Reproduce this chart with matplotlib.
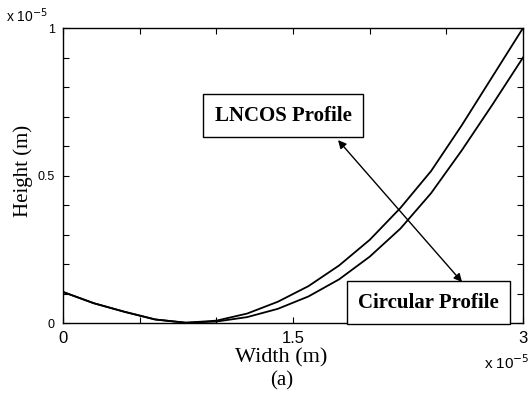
import matplotlib.pyplot as plt

# values in units of 1e-5 m
width = [0.0, 0.2, 0.4, 0.6, 0.8, 1.0, 1.2, 1.4, 1.6, 1.8, 2.0, 2.2, 2.4, 2.6, 2.8, 3.0]
lncos = [0.105, 0.067, 0.038, 0.012, 0.001, 0.008, 0.032, 0.072, 0.125, 0.195,
         0.282, 0.39, 0.515, 0.67, 0.835, 1.0]
circular = [0.105, 0.067, 0.038, 0.012, 0.001, 0.005, 0.02, 0.048, 0.09, 0.148,
            0.225, 0.32, 0.44, 0.585, 0.74, 0.90]

xticks = [0, 0.5, 1.0, 1.5, 2.0, 2.5, 3.0]
xticklabels = ['0', '', '', '1.5', '', '', '3']
yticks = [0, 0.1, 0.2, 0.3, 0.4, 0.5, 0.6, 0.7, 0.8, 0.9, 1.0]
yticklabels = ['0', '', '', '', '', '0.5', '', '', '', '', '1']

serif = 'Liberation Serif'
sans = 'Liberation Sans'

fig = plt.figure(figsize=(5.31, 4.03), dpi=100)
ax = fig.add_axes([0.119, 0.1985, 0.866, 0.732])

ax.plot(width, lncos, color='black', lw=1.3, solid_joinstyle='round')
ax.plot(width, circular, color='black', lw=1.3, solid_joinstyle='round')

ax.set_xlim(0, 3)
ax.set_ylim(0, 1)
ax.set_xticks(xticks)
ax.set_xticklabels(xticklabels, fontfamily=sans, fontsize=12)
ax.set_yticks(yticks)
ax.set_yticklabels(yticklabels, fontfamily=sans, fontsize=9)
ax.tick_params(direction='in', top=True, right=True, length=4, width=0.8)
ax.tick_params(axis='x', pad=6)
ax.tick_params(axis='y', pad=6)
for s in ax.spines.values():
    s.set_linewidth(1.0)

ax.set_xlabel('Width (m)', fontfamily=serif, fontsize=16, va='center')
ax.xaxis.set_label_coords(0.473, -0.119)
ax.set_ylabel('Height (m)', fontfamily=serif, fontsize=15, va='center')
ax.yaxis.set_label_coords(-0.088, 0.517)
fig.text(282 / 531, 1 - 381 / 403, '(a)', fontfamily=serif, fontsize=15,
         ha='center', va='center')

fig.text(0.012, 0.945, r'x 10$^{-5}$', fontfamily=sans, fontsize=10, va='baseline')
fig.text(0.912, 0.085, r'x 10$^{-5}$', fontfamily=sans, fontsize=11, va='baseline')

box = dict(boxstyle='square,pad=0.55', fc='white', ec='black', lw=1.0)
ax.text(1.435, 0.702, 'LNCOS Profile', fontfamily=serif, fontweight='bold',
        fontsize=15, ha='center', va='center', bbox=box)
ax.text(2.384, 0.069, 'Circular Profile', fontfamily=serif, fontweight='bold',
        fontsize=15, ha='center', va='center', bbox=box, clip_on=False)

ax.annotate('', xy=(1.793, 0.62), xytext=(2.602, 0.139),
            arrowprops=dict(arrowstyle='<|-|>', color='black', lw=1.0,
                            mutation_scale=12, shrinkA=0, shrinkB=0))

fig.savefig('out.png', dpi=100)
